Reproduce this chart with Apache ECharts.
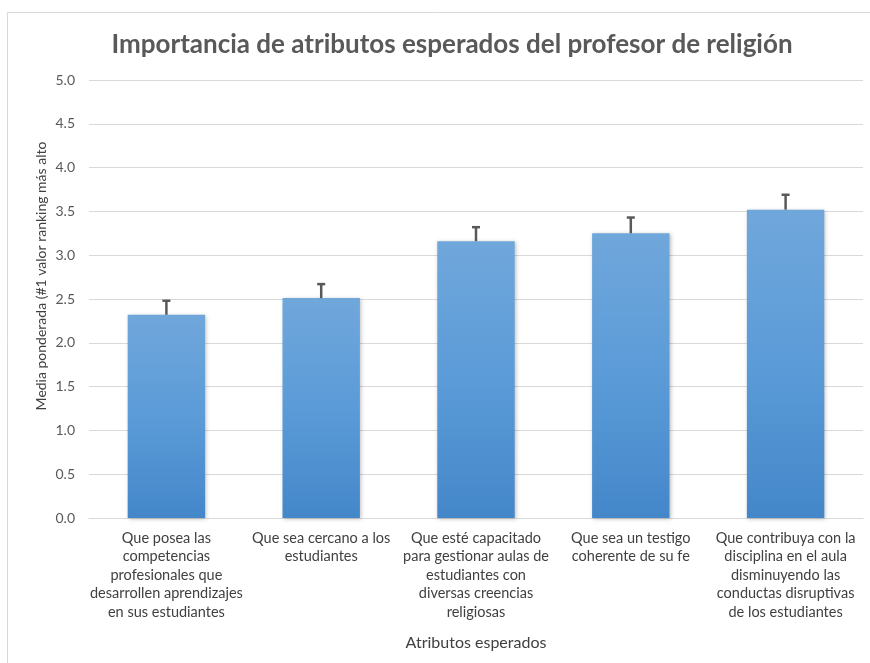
<!DOCTYPE html>
<html>
<head>
<meta charset="utf-8">
<script src="https://cdn.jsdelivr.net/npm/echarts@6/dist/echarts.min.js"></script>
<style>
html,body{margin:0;padding:0;background:#fff;}
#chart{width:870px;height:663px;}
</style>
</head>
<body>
<div id="chart"></div>
<script>
var titleText = 'Importancia de atributos esperados del profesor de religión';
var categories = [
  'Que posea las\ncompetencias\nprofesionales que\ndesarrollen aprendizajes\nen sus estudiantes',
  'Que sea cercano a los\nestudiantes',
  'Que esté capacitado\npara gestionar aulas de\nestudiantes con\ndiversas creencias\nreligiosas',
  'Que sea un testigo\ncoherente de su fe',
  'Que contribuya con la\ndisciplina en el aula\ndisminuyendo las\nconductas disruptivas\nde los estudiantes'
];
var means = [2.32, 2.51, 3.16, 3.25, 3.52];
var errorUpper = [2.48, 2.67, 3.32, 3.43, 3.69];
var yAxisName = 'Media ponderada (#1 valor ranking más alto';
var xAxisName = 'Atributos esperados';

var FONT = 'Lato, "Open Sans", sans-serif';
var chart = echarts.init(document.getElementById('chart'));

var errData = means.map(function(m, i){ return [i, m, errorUpper[i]]; });

chart.setOption({
  backgroundColor: '#fff',
  animation: false,
  title: {
    text: titleText,
    left: 447, top: 27, textAlign: 'center',
    textStyle: {fontFamily: FONT, fontSize: 26, fontWeight: 'bold', color: '#595959'}
  },
  graphic: [
    {type: 'rect', shape: {x: 7.5, y: 12.5, width: 870, height: 660},
     style: {fill: 'none', stroke: '#d9d9d9', lineWidth: 1}, silent: true},
    {type: 'text', x: 41, y: 276, rotation: Math.PI/2,
     style: {text: yAxisName, fontFamily: FONT, fontSize: 14, fill: '#404040',
             textAlign: 'center', textVerticalAlign: 'middle'}}
  ],
  grid: {left: 89, right: 7, top: 80, bottom: 145},
  xAxis: {
    type: 'category', data: categories,
    name: xAxisName, nameLocation: 'middle', nameGap: 117,
    nameTextStyle: {fontFamily: FONT, fontSize: 16, color: '#404040'},
    axisLine: {lineStyle: {color: '#d9d9d9', width: 1}},
    axisTick: {show: false},
    axisLabel: {interval: 0, fontFamily: FONT, fontSize: 14.5, color: '#404040', lineHeight: 18.5, margin: 11}
  },
  yAxis: {
    type: 'value', min: 0, max: 5, interval: 0.5,
    axisLine: {show: false}, axisTick: {show: false},
    splitLine: {lineStyle: {color: '#d9d9d9', width: 1}},
    axisLabel: {formatter: function(v){ return v.toFixed(1); }, fontFamily: FONT, fontSize: 14, color: '#595959', margin: 14}
  },
  series: [
    {
      type: 'bar', data: means, barCategoryGap: '50%',
      itemStyle: {
        color: new echarts.graphic.LinearGradient(0, 0, 0, 1, [
          {offset: 0, color: '#70a7db'}, {offset: 0.5, color: '#5b9bd8'}, {offset: 1, color: '#4487c9'}
        ], false),
        shadowColor: 'rgba(0,0,0,0.25)', shadowBlur: 4, shadowOffsetX: 1, shadowOffsetY: 1
      }
    },
    {
      type: 'custom', data: errData, z: 5,
      renderItem: function(params, api){
        var x = api.value(0);
        var p0 = api.coord([x, api.value(1)]);
        var p1 = api.coord([x, api.value(2)]);
        var st = {stroke: '#595959', lineWidth: 2.5};
        return {type: 'group', children: [
          {type: 'line', shape: {x1: p0[0], y1: p0[1], x2: p1[0], y2: p1[1]}, style: st},
          {type: 'line', shape: {x1: p1[0]-4, y1: p1[1], x2: p1[0]+4, y2: p1[1]}, style: st}
        ]};
      }
    }
  ]
});
</script>
</body>
</html>
